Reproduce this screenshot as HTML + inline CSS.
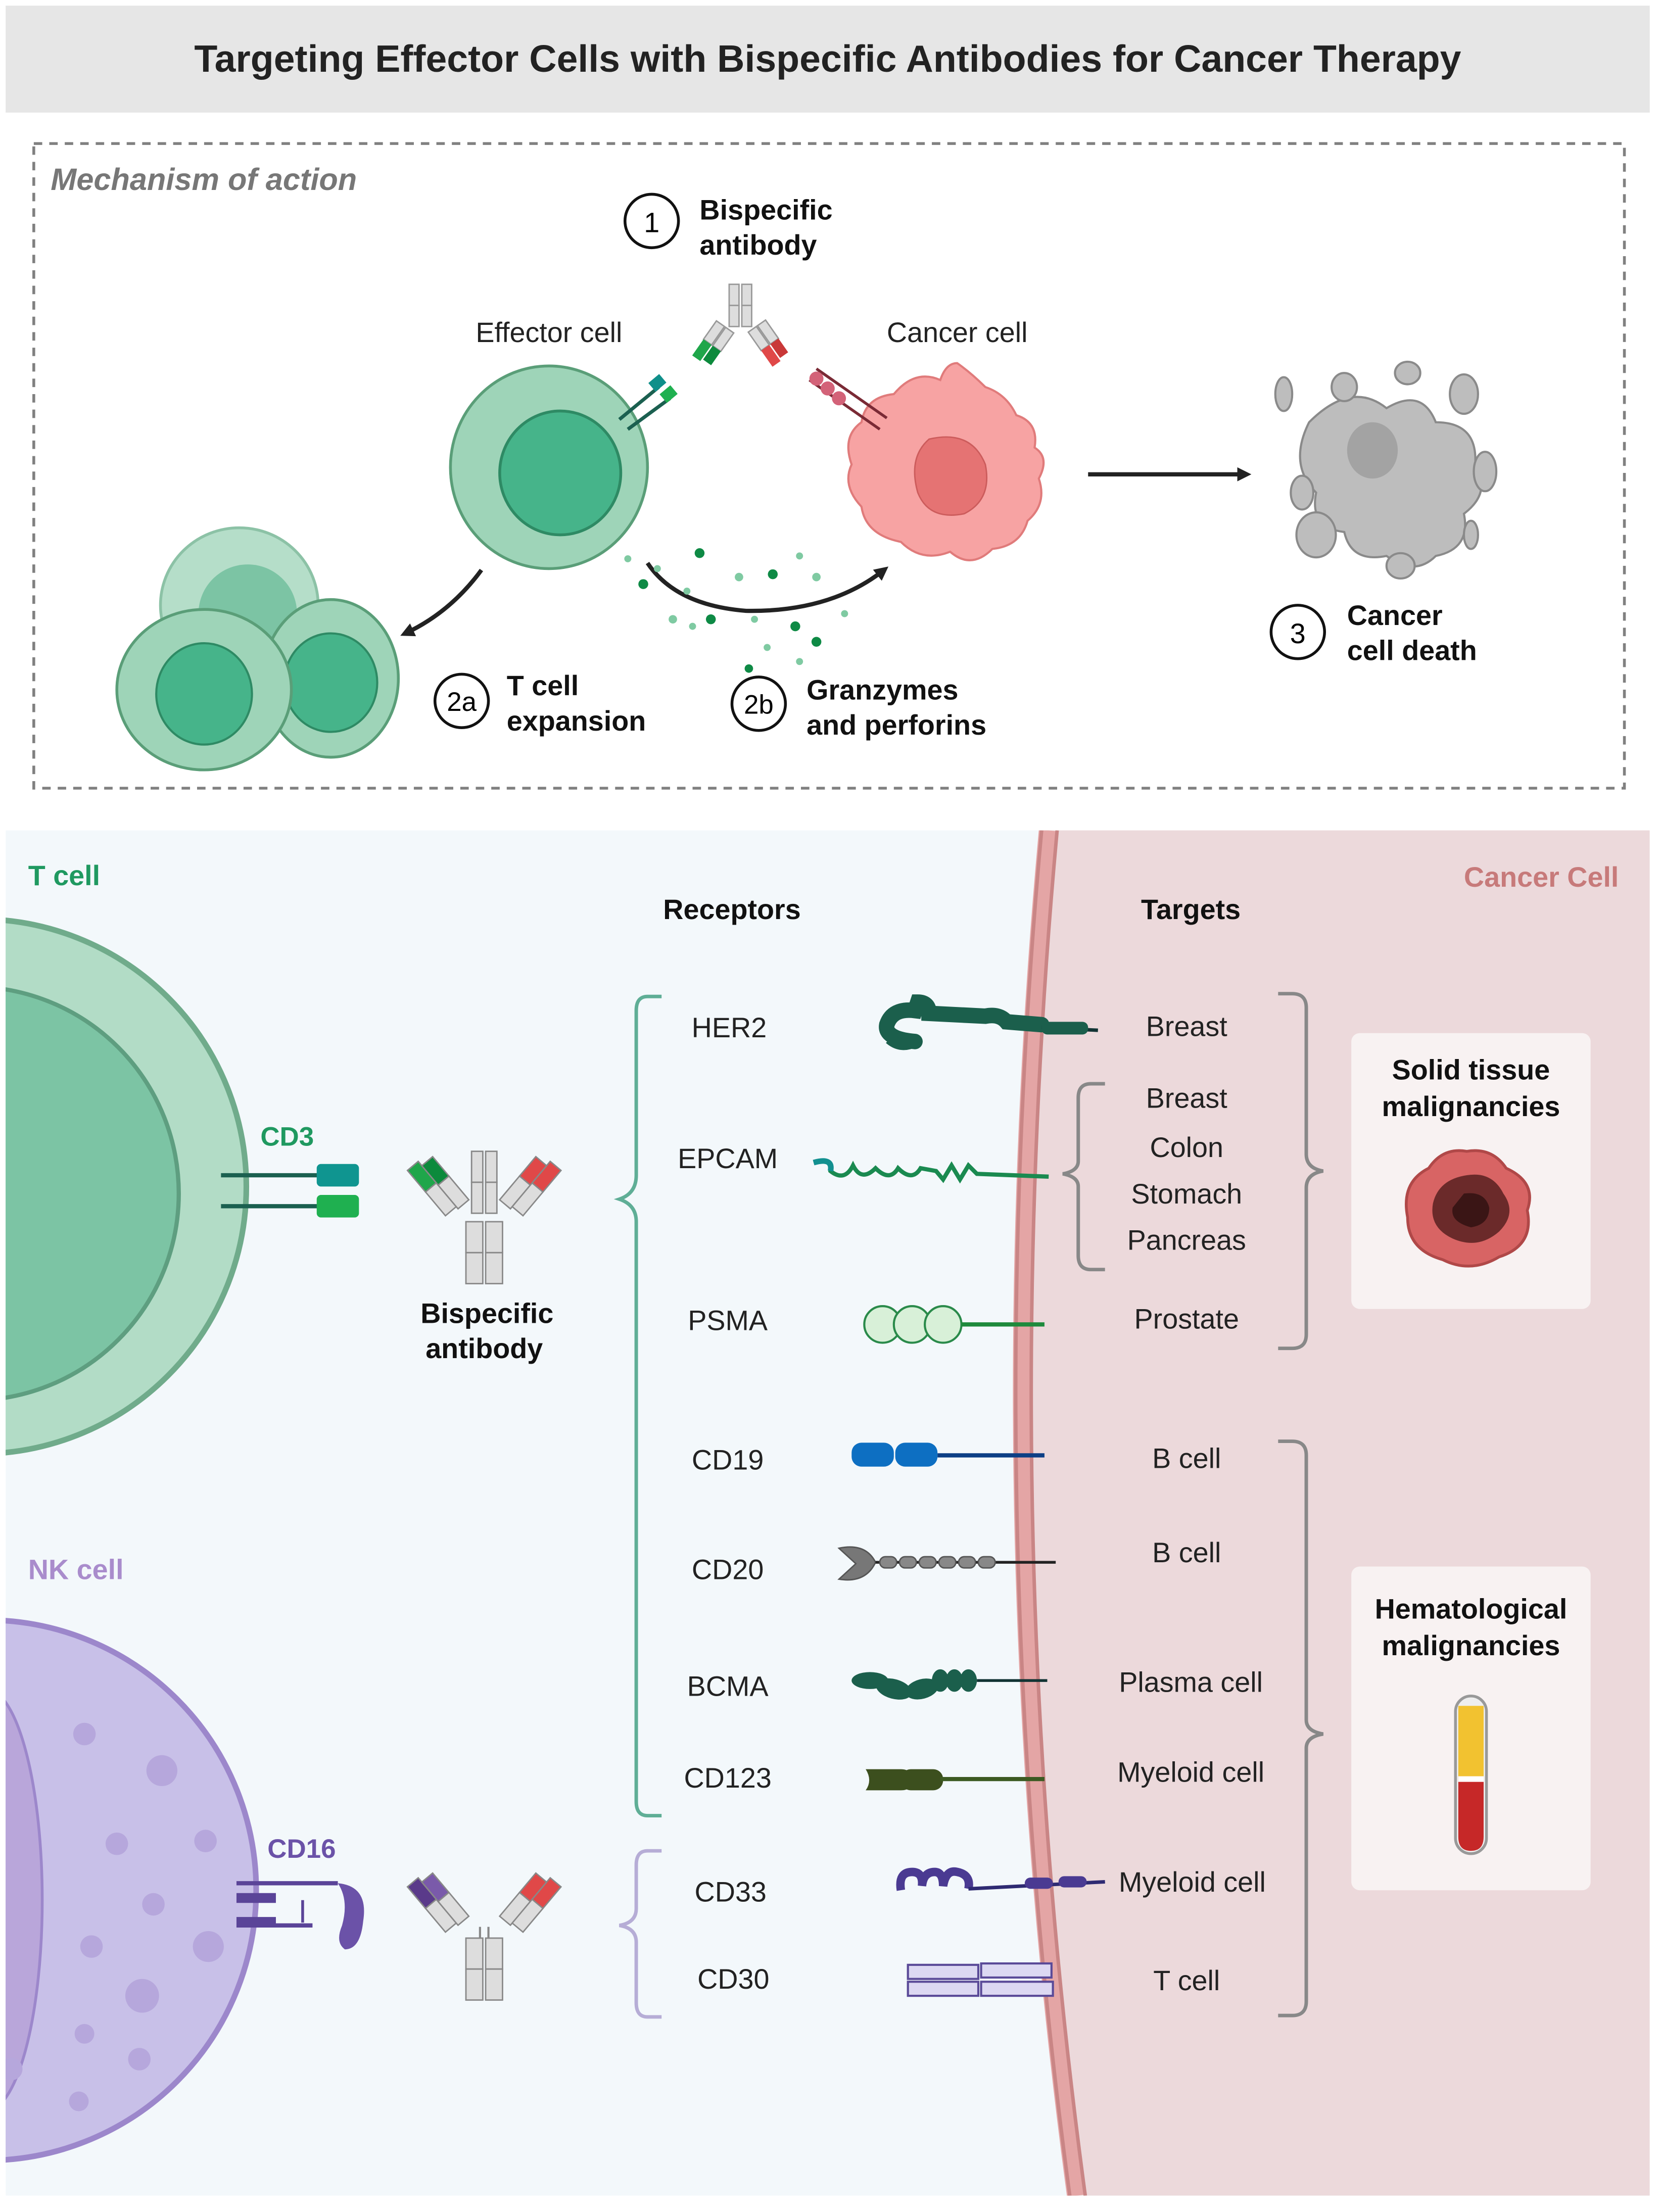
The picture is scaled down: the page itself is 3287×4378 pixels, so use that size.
<!DOCTYPE html>
<html><head><meta charset="utf-8"><style>
html,body{margin:0;padding:0;background:#fff}
svg{display:block}
text{font-family:"Liberation Sans",sans-serif}
</style></head><body>
<svg width="3287" height="4378" viewBox="0 0 1180 1571.6" preserveAspectRatio="none" xmlns="http://www.w3.org/2000/svg">
<defs>
<marker id="ah" markerWidth="10" markerHeight="10" refX="6" refY="5" orient="auto" markerUnits="userSpaceOnUse"><path d="M0,0 L10,5 L0,10 z" fill="#222"/></marker>
</defs>
<rect width="1180" height="1571.6" fill="#fff"/>
<rect x="4" y="4" width="1168" height="76" fill="#e6e6e6"/>
<text x="588" y="51" font-size="27" font-weight="bold" text-anchor="middle" fill="#222">Targeting Effector Cells with Bispecific Antibodies for Cancer Therapy</text>
<rect x="24" y="102" width="1130" height="458" fill="none" stroke="#808080" stroke-width="2" stroke-dasharray="6,5"/>
<text x="36" y="135" font-size="22" font-weight="bold" font-style="italic" fill="#777">Mechanism of action</text>
<circle cx="463" cy="157" r="19" fill="#fff" stroke="#111" stroke-width="2"/>
<text x="463" y="165" font-size="20" text-anchor="middle">1</text>
<text x="497" y="156" font-size="20" font-weight="bold" fill="#111">Bispecific</text>
<text x="497" y="181" font-size="20" font-weight="bold" fill="#111">antibody</text>
<text x="390" y="243" font-size="20" text-anchor="middle" fill="#222">Effector cell</text>
<text x="680" y="243" font-size="20" text-anchor="middle" fill="#222">Cancer cell</text>
<g transform="translate(526,235)">
  <rect x="-8" y="-33" width="7" height="15" fill="#ddd" stroke="#999"/>
  <rect x="1" y="-33" width="7" height="15" fill="#ddd" stroke="#999"/>
  <rect x="-8" y="-18" width="7" height="15" fill="#ddd" stroke="#999"/>
  <rect x="1" y="-18" width="7" height="15" fill="#ddd" stroke="#999"/>
  <g transform="rotate(35) translate(-14,4)"><rect x="-4" y="0" width="7" height="16" fill="#ddd" stroke="#999"/><rect x="-4" y="16" width="7" height="14" fill="#1fa64a"/><rect x="4" y="0" width="7" height="16" fill="#ddd" stroke="#999"/><rect x="4" y="16" width="7" height="12" fill="#0c8a3c"/></g>
  <g transform="rotate(-35) translate(8,4)"><rect x="-4" y="0" width="7" height="16" fill="#ddd" stroke="#999"/><rect x="-4" y="16" width="7" height="14" fill="#e04848"/><rect x="4" y="0" width="7" height="16" fill="#ddd" stroke="#999"/><rect x="4" y="16" width="7" height="12" fill="#c93838"/></g>
</g>
<ellipse cx="390" cy="332" rx="70" ry="72" fill="#9ed4b8" stroke="#5a9e78" stroke-width="2"/>
<ellipse cx="398" cy="336" rx="43" ry="44" fill="#46b48a" stroke="#2e8a64" stroke-width="2"/>
<path d="M440,298 L468,275 M446,305 L476,283" stroke="#1b6050" stroke-width="2.5"/>
<rect x="462" y="268" width="10" height="8" fill="#0f8f8a" transform="rotate(-40 467 272)"/>
<rect x="470" y="276" width="10" height="8" fill="#1fb050" transform="rotate(-40 475 280)"/>
<path d="M680,258 Q690,265 700,275 Q715,280 722,295 Q738,300 735,318 Q746,325 738,340 Q744,358 730,370 Q725,388 705,390 Q690,405 675,392 Q655,400 640,385 Q615,380 612,360 Q598,345 605,330 Q598,310 612,300 Q615,282 635,280 Q650,262 668,270 Q672,258 680,258z" fill="#f7a3a3" stroke="#e07b7b" stroke-width="1.5"/>
<path d="M660,312 Q690,305 700,330 Q705,355 685,365 Q660,370 652,350 Q645,325 660,312z" fill="#e57373" stroke="#cc5c5c"/>
<path d="M575,270 L625,305 M580,262 L630,297" stroke="#7a2a35" stroke-width="2"/>
<circle cx="580" cy="269" r="5" fill="#d36278"/><circle cx="588" cy="276" r="5" fill="#d36278"/><circle cx="596" cy="283" r="5" fill="#d36278"/>
<line x1="773" y1="337" x2="885" y2="337" stroke="#222" stroke-width="3" marker-end="url(#ah)"/>
<g fill="#bdbdbd" stroke="#8a8a8a" stroke-width="1.5">
<path d="M930,300 Q960,270 985,290 Q1010,275 1020,300 Q1050,300 1048,330 Q1060,350 1040,365 Q1045,390 1020,395 Q1005,410 985,395 Q960,400 955,378 Q930,375 935,350 Q915,330 930,300z"/>
<ellipse cx="912" cy="280" rx="6" ry="12"/><ellipse cx="955" cy="275" rx="9" ry="10"/><ellipse cx="1000" cy="265" rx="9" ry="8"/><ellipse cx="1040" cy="280" rx="10" ry="14"/><ellipse cx="925" cy="350" rx="8" ry="12"/><ellipse cx="935" cy="380" rx="14" ry="16"/><ellipse cx="995" cy="402" rx="10" ry="9"/><ellipse cx="1045" cy="380" rx="5" ry="10"/><ellipse cx="1055" cy="335" rx="8" ry="14"/>
</g>
<ellipse cx="975" cy="320" rx="18" ry="20" fill="#a3a3a3"/>
<circle cx="922" cy="449" r="19" fill="#fff" stroke="#111" stroke-width="2"/>
<text x="922" y="457" font-size="20" text-anchor="middle">3</text>
<text x="957" y="444" font-size="20" font-weight="bold" fill="#111">Cancer</text>
<text x="957" y="469" font-size="20" font-weight="bold" fill="#111">cell death</text>
<ellipse cx="170" cy="430" rx="56" ry="55" fill="#b5dec9" stroke="#8cc2a6" stroke-width="2"/>
<ellipse cx="176" cy="436" rx="35" ry="35" fill="#7cc4a4"/>
<ellipse cx="235" cy="482" rx="48" ry="56" fill="#9ed4b8" stroke="#5a9e78" stroke-width="2"/>
<ellipse cx="235" cy="485" rx="33" ry="35" fill="#46b48a" stroke="#2e8a64" stroke-width="1.5"/>
<ellipse cx="145" cy="490" rx="62" ry="57" fill="#9ed4b8" stroke="#5a9e78" stroke-width="2"/>
<ellipse cx="145" cy="493" rx="34" ry="36" fill="#46b48a" stroke="#2e8a64" stroke-width="1.5"/>
<path d="M342,405 Q320,435 288,450" stroke="#222" stroke-width="3" fill="none" marker-end="url(#ah)"/>
<circle cx="328" cy="498" r="19" fill="#fff" stroke="#111" stroke-width="2"/>
<text x="328" y="505" font-size="19" text-anchor="middle">2a</text>
<text x="360" y="494" font-size="20" font-weight="bold" fill="#111">T cell</text>
<text x="360" y="519" font-size="20" font-weight="bold" fill="#111">expansion</text>
<path d="M460,400 Q480,430 530,434 Q590,435 628,405" stroke="#222" stroke-width="3" fill="none" marker-end="url(#ah)"/>
<g fill="#0e8a45"><circle cx="497" cy="393" r="3.5"/><circle cx="549" cy="408" r="3.5"/><circle cx="457" cy="415" r="3.5"/><circle cx="505" cy="440" r="3.5"/><circle cx="565" cy="445" r="3.5"/><circle cx="580" cy="456" r="3.5"/><circle cx="532" cy="475" r="3"/></g>
<g fill="#7fcaa2"><circle cx="446" cy="397" r="2.5"/><circle cx="467" cy="404" r="2.5"/><circle cx="525" cy="410" r="3"/><circle cx="488" cy="420" r="2.5"/><circle cx="568" cy="395" r="2.5"/><circle cx="580" cy="410" r="3"/><circle cx="478" cy="440" r="3"/><circle cx="536" cy="440" r="2.5"/><circle cx="492" cy="445" r="2.5"/><circle cx="545" cy="460" r="2.5"/><circle cx="600" cy="436" r="2.5"/><circle cx="568" cy="470" r="2.5"/></g>
<circle cx="539" cy="500" r="19" fill="#fff" stroke="#111" stroke-width="2"/>
<text x="539" y="507" font-size="19" text-anchor="middle">2b</text>
<text x="573" y="497" font-size="20" font-weight="bold" fill="#111">Granzymes</text>
<text x="573" y="522" font-size="20" font-weight="bold" fill="#111">and perforins</text>
<clipPath id="bp"><rect x="4" y="590" width="1168" height="970"/></clipPath>
<g clip-path="url(#bp)">
<rect x="4" y="590" width="1168" height="970" fill="#f3f8fb"/>
<path d="M745,590 Q700,1080 765,1560 L1172,1560 L1172,590 Z" fill="#ecd9db"/>
<path d="M745,590 Q700,1080 765,1560" fill="none" stroke="#e4a5a5" stroke-width="14"/>
<path d="M740,590 Q695,1080 760,1560" fill="none" stroke="#c98585" stroke-width="2.5"/>
<path d="M751,590 Q706,1080 771,1560" fill="none" stroke="#c98585" stroke-width="2.5"/>
<circle cx="-15" cy="843" r="190" fill="#b2dcc6" stroke="#70ab8b" stroke-width="4"/>
<circle cx="-20" cy="848" r="147" fill="#7cc4a4" stroke="#5e9e80" stroke-width="3"/>
<circle cx="-10" cy="1343" r="192" fill="#c8c0e8" stroke="#9c87cb" stroke-width="4"/>
<ellipse cx="-10" cy="1350" rx="40" ry="150" fill="#b9a6da" stroke="#9c87cb" stroke-width="2"/>
<g fill="#b6a7dc"><circle cx="60" cy="1232" r="8"/><circle cx="115" cy="1258" r="11"/><circle cx="83" cy="1310" r="8"/><circle cx="146" cy="1308" r="8"/><circle cx="109" cy="1353" r="8"/><circle cx="148" cy="1383" r="11"/><circle cx="65" cy="1383" r="8"/><circle cx="101" cy="1418" r="12"/><circle cx="60" cy="1445" r="7"/><circle cx="99" cy="1463" r="8"/><circle cx="56" cy="1493" r="7"/><circle cx="8" cy="1470" r="8"/></g>
</g>
<text x="20" y="629" font-size="20" font-weight="bold" fill="#1f9960">T cell</text>
<text x="20" y="1122" font-size="20" font-weight="bold" fill="#a98ccc">NK cell</text>
<text x="1150" y="630" font-size="20" font-weight="bold" fill="#c77a7a" text-anchor="end">Cancer Cell</text>
<text x="520" y="653" font-size="20" font-weight="bold" text-anchor="middle" fill="#111">Receptors</text>
<text x="846" y="653" font-size="20" font-weight="bold" text-anchor="middle" fill="#111">Targets</text>
<text x="185" y="814" font-size="19" font-weight="bold" fill="#1f9960">CD3</text>
<line x1="157" y1="835" x2="230" y2="835" stroke="#1b6050" stroke-width="3"/>
<line x1="157" y1="857" x2="230" y2="857" stroke="#1b6050" stroke-width="3"/>
<rect x="225" y="827" width="30" height="16" rx="3" fill="#0f9590"/>
<rect x="225" y="849" width="30" height="16" rx="3" fill="#1fb050"/>
<g transform="translate(344,866)">
  <rect x="-9" y="-48" width="8" height="22" fill="#ddd" stroke="#888"/><rect x="1" y="-48" width="8" height="22" fill="#ddd" stroke="#888"/>
  <rect x="-9" y="-26" width="8" height="22" fill="#ddd" stroke="#888"/><rect x="1" y="-26" width="8" height="22" fill="#ddd" stroke="#888"/>
  <g transform="translate(-10,0) rotate(-40) translate(-12,-55)"><rect x="0" y="0" width="10" height="20" fill="#1fa64a" stroke="#888"/><rect x="0" y="20" width="10" height="22" fill="#ddd" stroke="#888"/><rect x="10" y="4" width="10" height="18" fill="#0c8a3c" stroke="#888"/><rect x="10" y="22" width="10" height="22" fill="#ddd" stroke="#888"/></g>
  <g transform="translate(10,0) rotate(40) translate(-8,-55)"><rect x="0" y="4" width="10" height="18" fill="#e04848" stroke="#888"/><rect x="0" y="22" width="10" height="22" fill="#ddd" stroke="#888"/><rect x="10" y="0" width="10" height="20" fill="#e04848" stroke="#888"/><rect x="10" y="20" width="10" height="22" fill="#ddd" stroke="#888"/></g>
  <rect x="-13" y="2" width="12" height="22" fill="#ddd" stroke="#888"/><rect x="1" y="2" width="12" height="22" fill="#ddd" stroke="#888"/>
  <rect x="-13" y="24" width="12" height="22" fill="#ddd" stroke="#888"/><rect x="1" y="24" width="12" height="22" fill="#ddd" stroke="#888"/>
</g>
<text x="346" y="940" font-size="20" font-weight="bold" text-anchor="middle" fill="#111">Bispecific</text>
<text x="344" y="965" font-size="20" font-weight="bold" text-anchor="middle" fill="#111">antibody</text>
<text x="190" y="1320" font-size="19" font-weight="bold" fill="#6b52a8">CD16</text>
<line x1="168" y1="1338" x2="240" y2="1338" stroke="#5a4498" stroke-width="3"/>
<line x1="168" y1="1368" x2="222" y2="1368" stroke="#5a4498" stroke-width="3"/>
<rect x="168" y="1345" width="28" height="7" fill="#5a4498"/><rect x="168" y="1362" width="28" height="7" fill="#5a4498"/>
<line x1="215" y1="1350" x2="215" y2="1366" stroke="#5a4498" stroke-width="2"/>
<path d="M240,1338 Q262,1340 258,1365 Q256,1385 245,1385 Q238,1380 243,1368 Q248,1350 240,1338z" fill="#6b52a8"/>
<g transform="translate(344,1375)">
  <g transform="translate(-10,0) rotate(-40) translate(-12,-55)"><rect x="0" y="0" width="10" height="20" fill="#5a3a8a" stroke="#888"/><rect x="0" y="20" width="10" height="22" fill="#ddd" stroke="#888"/><rect x="10" y="4" width="10" height="18" fill="#7a5aaa" stroke="#888"/><rect x="10" y="22" width="10" height="22" fill="#ddd" stroke="#888"/></g>
  <g transform="translate(10,0) rotate(40) translate(-8,-55)"><rect x="0" y="4" width="10" height="18" fill="#e04848" stroke="#888"/><rect x="0" y="22" width="10" height="22" fill="#ddd" stroke="#888"/><rect x="10" y="0" width="10" height="20" fill="#e04848" stroke="#888"/><rect x="10" y="20" width="10" height="22" fill="#ddd" stroke="#888"/></g>
  <path d="M-3,-6 L-3,2 M3,-6 L3,2" stroke="#888" stroke-width="1.5"/>
  <rect x="-13" y="2" width="12" height="22" fill="#ddd" stroke="#888"/><rect x="1" y="2" width="12" height="22" fill="#ddd" stroke="#888"/>
  <rect x="-13" y="24" width="12" height="22" fill="#ddd" stroke="#888"/><rect x="1" y="24" width="12" height="22" fill="#ddd" stroke="#888"/>
</g>
<path d="M470,708 L460,708 Q452,708 452,718 L452,835 Q452,848 440,852 Q452,856 452,868 L452,1280 Q452,1290 460,1290 L470,1290" fill="none" stroke="#5fae96" stroke-width="2.5"/>
<path d="M470,1315 L460,1315 Q452,1315 452,1325 L452,1356 Q452,1366 440,1368 Q452,1370 452,1380 L452,1423 Q452,1433 460,1433 L470,1433" fill="none" stroke="#b6add6" stroke-width="2.5"/>
<path d="M908,706 L918,706 Q928,706 928,716 L928,820 Q928,830 940,832 Q928,834 928,844 L928,948 Q928,958 918,958 L908,958" fill="none" stroke="#888" stroke-width="2.5"/>
<path d="M785,770 L775,770 Q766,770 766,780 L766,825 Q766,832 755,834 Q766,836 766,843 L766,892 Q766,902 775,902 L785,902" fill="none" stroke="#888" stroke-width="2.5"/>
<path d="M908,1024 L918,1024 Q928,1024 928,1034 L928,1222 Q928,1230 940,1232 Q928,1234 928,1242 L928,1422 Q928,1432 918,1432 L908,1432" fill="none" stroke="#888" stroke-width="2.5"/>
<g font-size="20" text-anchor="middle" fill="#222">
<text x="518" y="737">HER2</text><text x="517" y="830">EPCAM</text><text x="517" y="945">PSMA</text><text x="517" y="1044">CD19</text><text x="517" y="1122">CD20</text><text x="517" y="1205">BCMA</text><text x="517" y="1270">CD123</text><text x="519" y="1351">CD33</text><text x="521" y="1413">CD30</text>
<text x="843" y="736">Breast</text><text x="843" y="787">Breast</text><text x="843" y="822">Colon</text><text x="843" y="855">Stomach</text><text x="843" y="888">Pancreas</text><text x="843" y="944">Prostate</text>
<text x="843" y="1043">B cell</text><text x="843" y="1110">B cell</text><text x="846" y="1202">Plasma cell</text><text x="846" y="1266">Myeloid cell</text><text x="847" y="1344">Myeloid cell</text><text x="843" y="1414">T cell</text>
</g>
<path d="M650,740 Q628,738 630,728 Q634,716 650,718 L652,712 Q660,712 660,720 L700,722 Q710,720 715,726 L740,728" fill="none" stroke="#1b5f4c" stroke-width="11" stroke-linecap="round"/>
<path d="M650,740 Q640,745 632,738" stroke="#1b5f4c" stroke-width="8" fill="none"/>
<line x1="740" y1="730" x2="780" y2="732" stroke="#133" stroke-width="2.5"/>
<rect x="740" y="726" width="33" height="9" rx="4" fill="#1b5f4c"/>
<path d="M578,826 Q592,822 590,832 Q600,840 606,828 Q612,840 622,830 Q632,840 638,830 Q648,840 654,830 L665,832 L670,838 L676,828 L682,838 L688,828 L694,834 L745,836" fill="none" stroke="#1a8a50" stroke-width="3"/>
<path d="M578,826 Q592,822 590,832" fill="none" stroke="#129090" stroke-width="4"/>
<g fill="#d8f0d8" stroke="#2a8a4a" stroke-width="1.5"><circle cx="627" cy="941" r="13"/><circle cx="648" cy="941" r="13"/><circle cx="670" cy="941" r="13"/></g>
<line x1="683" y1="941" x2="742" y2="941" stroke="#1e8a3c" stroke-width="3"/>
<rect x="605" y="1025" width="30" height="17" rx="7" fill="#0d6fc2"/><rect x="636" y="1025" width="30" height="17" rx="7" fill="#0d6fc2"/>
<line x1="666" y1="1034" x2="742" y2="1034" stroke="#0c3f85" stroke-width="3"/>
<path d="M596,1100 Q615,1096 622,1110 Q615,1125 596,1122 L608,1111z" fill="#777" stroke="#555"/>
<line x1="622" y1="1110" x2="750" y2="1110" stroke="#222" stroke-width="2"/>
<g fill="#888" stroke="#555"><rect x="625" y="1106" width="12" height="8" rx="4"/><rect x="639" y="1106" width="12" height="8" rx="4"/><rect x="653" y="1106" width="12" height="8" rx="4"/><rect x="667" y="1106" width="12" height="8" rx="4"/><rect x="681" y="1106" width="12" height="8" rx="4"/><rect x="695" y="1106" width="12" height="8" rx="4"/></g>
<g fill="#1b5f4c"><ellipse cx="618" cy="1194" rx="13" ry="6"/><ellipse cx="635" cy="1200" rx="13" ry="7" transform="rotate(15 635 1200)"/><ellipse cx="655" cy="1200" rx="12" ry="7" transform="rotate(-15 655 1200)"/><ellipse cx="668" cy="1194" rx="6" ry="8"/><ellipse cx="678" cy="1194" rx="6" ry="8"/><ellipse cx="688" cy="1194" rx="6" ry="8"/></g>
<line x1="694" y1="1194" x2="744" y2="1194" stroke="#133" stroke-width="2"/>
<path d="M615,1257 L640,1257 Q648,1257 648,1265 Q648,1272 640,1272 L615,1272 Q620,1265 615,1257z" fill="#3c4f1e"/>
<rect x="640" y="1257" width="30" height="15" rx="7" fill="#3c4f1e"/>
<line x1="668" y1="1264" x2="742" y2="1264" stroke="#3c5a22" stroke-width="3"/>
<path d="M640,1343 Q638,1330 648,1330 Q656,1330 655,1340 Q656,1330 664,1330 Q670,1330 670,1340 Q672,1328 680,1330 Q690,1332 688,1342" fill="none" stroke="#4a3a92" stroke-width="6"/>
<line x1="688" y1="1342" x2="785" y2="1337" stroke="#2e2a72" stroke-width="2.5"/>
<rect x="728" y="1334" width="20" height="8" rx="4" fill="#4a3a92"/><rect x="752" y="1333" width="20" height="8" rx="4" fill="#4a3a92"/>
<g fill="#dcd8f2" stroke="#5a4a98" stroke-width="1.5"><rect x="645" y="1396" width="50" height="10"/><rect x="697" y="1395" width="50" height="10"/><rect x="645" y="1408" width="50" height="10"/><rect x="697" y="1408" width="51" height="10"/></g>
<rect x="960" y="734" width="170" height="196" rx="6" fill="#f8f2f2"/>
<text x="1045" y="767" font-size="20" font-weight="bold" text-anchor="middle" fill="#111">Solid tissue</text>
<text x="1045" y="793" font-size="20" font-weight="bold" text-anchor="middle" fill="#111">malignancies</text>
<path d="M1042,818 Q1060,815 1070,830 Q1092,840 1085,860 Q1090,885 1065,893 Q1045,905 1025,895 Q1000,888 1000,865 Q995,840 1015,830 Q1025,815 1042,818z" fill="#d86464" stroke="#b04848" stroke-width="2"/>
<path d="M1042,835 Q1060,832 1068,848 Q1078,862 1065,875 Q1050,888 1032,880 Q1015,872 1018,855 Q1022,838 1042,835z" fill="#6b2a2a"/>
<path d="M1040,848 Q1055,846 1058,858 Q1058,870 1045,872 Q1030,868 1032,858z" fill="#3a1515"/>
<rect x="960" y="1113" width="170" height="230" rx="6" fill="#f8f2f2"/>
<text x="1045" y="1150" font-size="20" font-weight="bold" text-anchor="middle" fill="#111">Hematological</text>
<text x="1045" y="1176" font-size="20" font-weight="bold" text-anchor="middle" fill="#111">malignancies</text>
<rect x="1034" y="1205" width="22" height="112" rx="11" fill="#eee" stroke="#999" stroke-width="2"/>
<rect x="1036" y="1212" width="18" height="50" fill="#f2c230"/>
<path d="M1036,1262 L1054,1262 L1054,1305 Q1054,1315 1045,1315 Q1036,1315 1036,1305z" fill="#c62828"/>
<rect x="1036" y="1262" width="18" height="4" fill="#fff"/>
</svg>
</body></html>
